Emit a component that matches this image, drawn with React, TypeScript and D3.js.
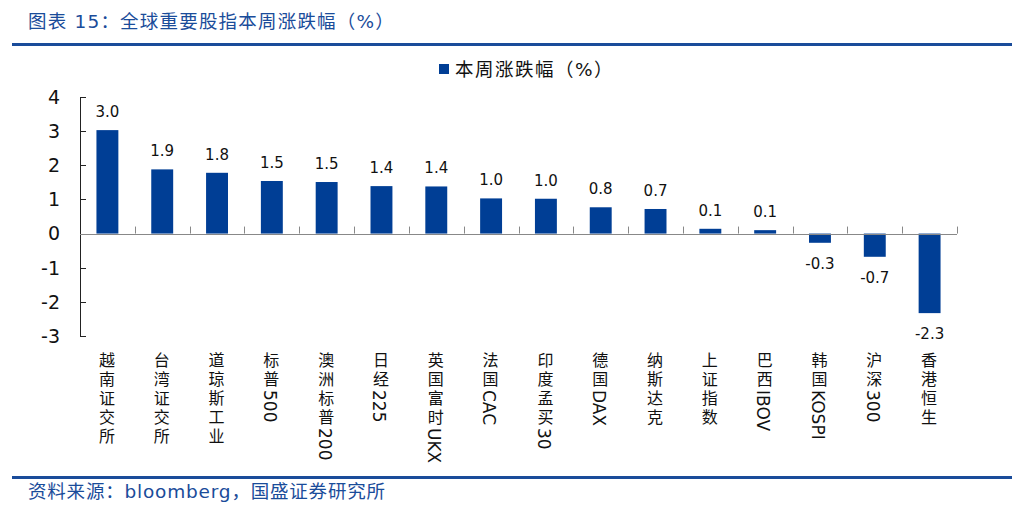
import { useMemo } from "react";
import * as d3 from "d3";

const categories = [
  "越南证交所",
  "台湾证交所",
  "道琼斯工业",
  "标普500",
  "澳洲标普200",
  "日经225",
  "英国富时UKX",
  "法国CAC",
  "印度孟买30",
  "德国DAX",
  "纳斯达克",
  "上证指数",
  "巴西IBOV",
  "韩国KOSPI",
  "沪深300",
  "香港恒生",
];
const values = [3.03, 1.88, 1.78, 1.54, 1.51, 1.39, 1.38, 1.03, 1.02, 0.77, 0.72, 0.14, 0.1, -0.27, -0.68, -2.33];
const valueLabels = ["3.0", "1.9", "1.8", "1.5", "1.5", "1.4", "1.4", "1.0", "1.0", "0.8", "0.7", "0.1", "0.1", "-0.3", "-0.7", "-2.3"];
const yTicks = [4, 3, 2, 1, 0, -1, -2, -3];

const W = 1027;
const H = 520;
const BLUE = "#003E95";
const TITLE_BLUE = "#1A4C9A";
const FONT = "'DejaVu Sans', 'Noto Sans CJK SC', sans-serif";

// split label into CJK / latin runs so each can get its own spacing
function runs(s: string) {
  const out: { t: string; cjk: boolean }[] = [];
  for (const ch of s) {
    const cjk = /[^\x00-\x7f]/.test(ch);
    const last = out[out.length - 1];
    if (last && last.cjk === cjk) last.t += ch;
    else out.push({ t: ch, cjk });
  }
  return out;
}

export default function App() {
  const x = useMemo(
    () => d3.scaleBand<string>().domain(categories).range([80, 957]).paddingInner(0.6).paddingOuter(0.3),
    []
  );
  const bounds = useMemo(() => d3.scaleBand<string>().domain(categories).range([80, 957]), []);
  const y = useMemo(() => d3.scaleLinear().domain([-3, 4]).range([336, 97]), []);

  return (
    <svg width={W} height={H} style={{ display: "block", position: "absolute", left: 0, top: 0 }}>
      <rect width={W} height={H} fill="#fff" />
      {/* title */}
      <text x={28} y={28} fill={TITLE_BLUE} fontFamily={FONT} fontSize={18.5} letterSpacing={1.2}>
        图表 15：全球重要股指本周涨跌幅（%）
      </text>
      <line x1={12} x2={1012} y1={44.5} y2={44.5} stroke={TITLE_BLUE} strokeWidth={3} />

      {/* legend */}
      <rect x={439} y={64} width={10} height={10} fill={BLUE} />
      <text x={455} y={76} fontFamily={FONT} fontSize={18.5} letterSpacing={1.5} fill="#111">
        本周涨跌幅（%）
      </text>

      {/* y axis */}
      <line x1={80.5} x2={80.5} y1={y(4)} y2={y(-3)} stroke="#222" />
      {yTicks.map((t) => (
        <g key={t}>
          <line x1={80} x2={86} y1={Math.round(y(t)) + 0.5} y2={Math.round(y(t)) + 0.5} stroke="#222" />
          <text x={60} y={y(t)} dy="0.36em" textAnchor="end" fontFamily={FONT} fontSize={19} fill="#111">
            {t}
          </text>
        </g>
      ))}

      {/* bars */}
      {categories.map((c, i) => {
        const v = values[i];
        const y0 = y(0);
        const y1 = y(v);
        const cx = x(c)! + x.bandwidth() / 2;
        return (
          <g key={c}>
            <rect x={x(c)} y={Math.min(y0, y1)} width={x.bandwidth()} height={Math.abs(y1 - y0)} fill={BLUE} />
            <text
              x={cx}
              y={v >= 0 ? y1 - 13 : y1 + 26}
              textAnchor="middle"
              fontFamily={FONT}
              fontSize={15}
              fill="#111"
            >
              {valueLabels[i]}
            </text>
          </g>
        );
      })}

      {/* zero line */}
      <line x1={80} x2={957} y1={Math.round(y(0)) + 0.5} y2={Math.round(y(0)) + 0.5} stroke="#888" />
      {categories.map((c) => (
        <line
          key={"t" + c}
          x1={Math.round(bounds(c)! + bounds.bandwidth()) + 0.5}
          x2={Math.round(bounds(c)! + bounds.bandwidth()) + 0.5}
          y1={y(0) - 7}
          y2={y(0)}
          stroke="#888"
        />
      ))}

      {/* x labels */}
      {categories.map((c) => (
        <text
          key={"l" + c}
          x={bounds(c)! + bounds.bandwidth() / 2 - 2}
          y={352}
          style={{ writingMode: "vertical-rl", textOrientation: "mixed" } as any}
          fontFamily={FONT}
          fill="#111"
        >
          {runs(c).map((r, k) => (
            <tspan key={k} fontSize={r.cjk ? 16 : 17} letterSpacing={r.cjk ? 3 : 0}>
              {r.t}
            </tspan>
          ))}
        </text>
      ))}

      {/* footer */}
      <line x1={12} x2={1012} y1={477.5} y2={477.5} stroke={TITLE_BLUE} strokeWidth={3} />
      <text x={28} y={498} fill={TITLE_BLUE} fontFamily={FONT} fontSize={18.5} letterSpacing={0.8}>
        资料来源：bloomberg，国盛证券研究所
      </text>
    </svg>
  );
}
